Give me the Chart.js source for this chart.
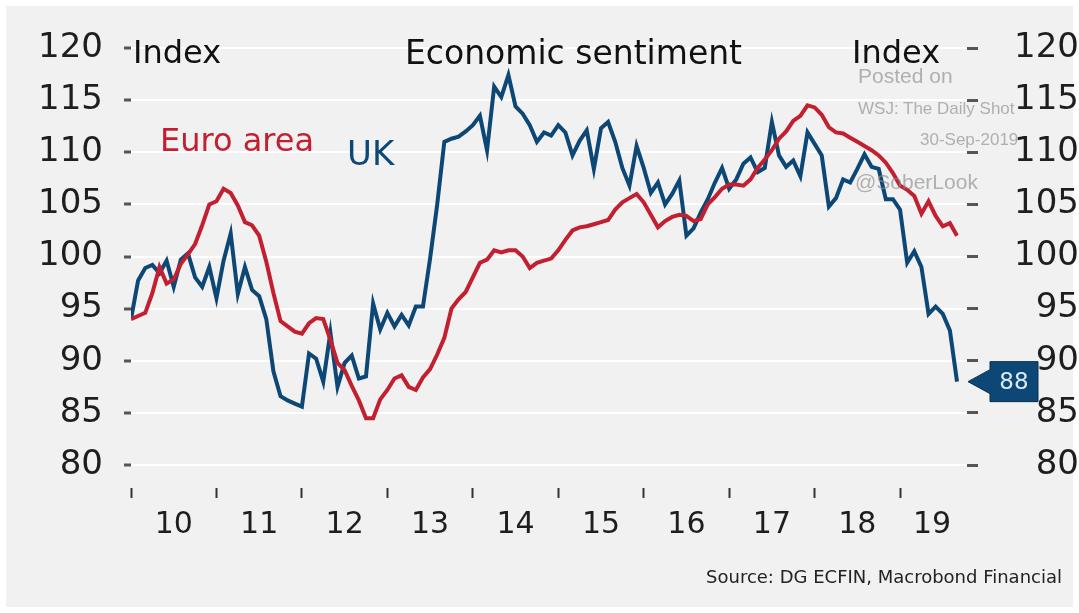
<!DOCTYPE html>
<html>
<head>
<meta charset="utf-8">
<script src="https://cdn.jsdelivr.net/npm/chart.js@4.4.1/dist/chart.umd.min.js"></script>
<style>
  html, body { margin: 0; padding: 0; background: #ffffff; }
  #wrap { position: relative; width: 1079px; height: 613px; overflow: hidden; }
  #panel { position: absolute; left: 6px; top: 6px; width: 1067px; height: 601px; background: #f1f1f1; }
  #chart { position: absolute; left: 0; top: 0; }
  .txt { position: absolute; white-space: nowrap; line-height: 1; font-family: "DejaVu Sans", sans-serif; }
  .wm { position: absolute; white-space: nowrap; line-height: 1; font-family: "Liberation Sans", Arial, sans-serif; color: rgba(140,140,140,0.65); }
</style>
</head>
<body>
<div id="wrap">
  <div id="panel"></div>
  <canvas id="chart" width="1079" height="613"></canvas>
  <div class="txt" style="left:133px; top:36px; font-size:32px; color:#111;">Index</div>
  <div class="txt" style="left:405px; top:36px; font-size:33px; color:#111;">Economic sentiment</div>
  <div class="txt" style="left:852px; top:36px; font-size:32px; color:#111;">Index</div>
  <div class="txt" style="left:160px; top:124px; font-size:32px; color:#c21f30;">Euro area</div>
  <div class="txt" style="left:347px; top:136px; font-size:34px; color:#0d4775;">UK</div>
  <div class="wm" style="left:858px; top:65px; font-size:21px;">Posted on</div>
  <div class="wm" style="left:858px; top:100px; font-size:17px;">WSJ: The Daily Shot</div>
  <div class="wm" style="left:920px; top:131px; font-size:17px;">30-Sep-2019</div>
  <div class="wm" style="left:855px; top:171px; font-size:21px;">@SoberLook</div>
  <div class="txt" style="right:17px; top:568px; font-size:18px; color:#222;">Source: DG ECFIN, Macrobond Financial</div>
</div>
<script>
// Economic sentiment indicator, monthly, Jan 2010 - Sep 2019
const yearLabels = ['10', '11', '12', '13', '14', '15', '16', '17', '18', '19'];
const yTicks = [80, 85, 90, 95, 100, 105, 110, 115, 120];

const euroArea = [
  94.0, 94.3, 94.6, 96.5, 99.0, 97.4, 97.8, 99.3, 100.2, 101.2, 103.0, 105.0,
  105.3, 106.5, 106.1, 104.9, 103.3, 103.0, 102.0, 99.5, 96.5, 93.8, 93.3, 92.8,
  92.6, 93.6, 94.1, 94.0, 92.0, 89.8, 89.1, 87.6, 86.2, 84.5, 84.5, 86.3,
  87.2, 88.3, 88.6, 87.5, 87.2, 88.4, 89.2, 90.6, 92.2, 95.0, 95.9, 96.6,
  98.0, 99.4, 99.7, 100.6, 100.4, 100.6, 100.6, 100.0, 98.9, 99.4, 99.6, 99.8,
  100.6, 101.6, 102.5, 102.8, 102.9, 103.1, 103.3, 103.5, 104.5, 105.2, 105.6, 106.0,
  105.2, 104.0, 102.8, 103.4, 103.8, 104.0, 103.9, 103.4, 103.6, 105.0, 105.7, 106.5,
  106.9, 106.9, 106.8, 107.4, 108.5, 109.3, 110.2, 111.3, 112.0, 113.0, 113.5, 114.5,
  114.3, 113.6, 112.4, 111.9, 111.8, 111.4, 111.0, 110.6, 110.2, 109.7, 109.0, 108.0,
  106.8, 106.4, 105.8, 104.1, 105.3, 103.9, 102.9, 103.2, 102.0
];

const uk = [
  94.0, 97.7, 98.9, 99.2, 98.4, 99.6, 97.1, 99.7, 100.3, 98.0, 97.1, 99.0,
  96.0, 99.6, 102.2, 96.4, 99.0, 96.8, 96.2, 94.0, 89.0, 86.6, 86.2, 85.9,
  85.6, 90.7, 90.2, 88.0, 92.7, 87.5, 89.8, 90.5, 88.3, 88.5, 95.5, 93.0,
  94.6, 93.3, 94.4, 93.4, 95.2, 95.2, 99.8, 105.0, 111.0, 111.3, 111.5, 112.0,
  112.6, 113.5, 110.2, 116.3, 115.3, 117.4, 114.4, 113.7, 112.6, 111.0, 111.9, 111.6,
  112.6, 111.9, 109.7, 111.1, 112.1, 108.4, 112.3, 112.9, 111.0, 108.5, 106.8, 110.6,
  108.5, 106.1, 107.1, 105.0, 106.0, 107.3, 102.0, 102.7, 104.2, 105.5, 107.1, 108.5,
  106.5, 107.4, 108.9, 109.5, 108.1, 108.5, 112.9, 109.7, 108.6, 109.2, 107.7, 111.9,
  110.8, 109.7, 104.8, 105.6, 107.4, 107.1, 108.4, 109.8, 108.6, 108.4, 105.5, 105.5,
  104.5, 99.4, 100.5, 99.0, 94.5, 95.2, 94.5, 92.9, 88.0
];

const RED = '#c21f30';
const BLUE = '#0d4775';

const nMonths = uk.length;
const yearStarts = yearLabels.map((_, i) => i * 12);
// label sits in the middle of the months each year covers
const yearMids = yearStarts.map(s => (s + Math.min(s + 12, nMonths)) / 2);

const toPoints = arr => arr.map((v, i) => ({ x: i, y: v }));

Chart.defaults.font.family = '"DejaVu Sans", sans-serif';

// little value box at the end of the UK line
const lastValueTag = {
  id: 'lastValueTag',
  afterDraw(chart) {
    const ctx = chart.ctx;
    const last = uk[uk.length - 1];
    const y = chart.scales.y.getPixelForValue(last);
    const tipX = chart.chartArea.right + 1;
    const boxL = tipX + 22, boxR = boxL + 48, h = 20;
    ctx.save();
    ctx.beginPath();
    ctx.moveTo(tipX, y);
    ctx.lineTo(boxL, y - 12);
    ctx.lineTo(boxL, y - h);
    ctx.lineTo(boxR, y - h);
    ctx.lineTo(boxR, y + h);
    ctx.lineTo(boxL, y + h);
    ctx.lineTo(boxL, y + 12);
    ctx.closePath();
    ctx.fillStyle = BLUE;
    ctx.fill();
    ctx.strokeStyle = '#08304f';
    ctx.lineWidth = 1;
    ctx.stroke();
    ctx.fillStyle = '#dbe9f5';
    ctx.font = '23px "DejaVu Sans"';
    ctx.textAlign = 'center';
    ctx.textBaseline = 'middle';
    ctx.fillText(String(Math.round(last)), (boxL + boxR) / 2, y + 1);
    ctx.restore();
  }
};

const yAxisBase = {
  type: 'linear',
  min: 77.8,
  max: 120,
  afterBuildTicks: scale => { scale.ticks = yTicks.map(v => ({ value: v })); },
  border: { display: false },
  ticks: { color: '#1e1e1e', font: { size: 34 } }
};

new Chart(document.getElementById('chart'), {
  type: 'line',
  data: {
    datasets: [
      { label: 'Euro area', data: toPoints(euroArea), borderColor: RED, borderWidth: 4, pointRadius: 0, tension: 0, xAxisID: 'x', yAxisID: 'y' },
      { label: 'UK', data: toPoints(uk), borderColor: BLUE, borderWidth: 4, pointRadius: 0, tension: 0, xAxisID: 'x', yAxisID: 'y' }
    ]
  },
  options: {
    responsive: false,
    animation: false,
    devicePixelRatio: 1,
    layout: { padding: { top: 48, bottom: 40, left: 0, right: 0 } },
    plugins: { legend: { display: false }, tooltip: { enabled: false } },
    scales: {
      x: {
        type: 'linear',
        position: 'bottom',
        weight: 0,
        min: 0,
        max: 117.4,
        afterBuildTicks: scale => { scale.ticks = yearStarts.map(v => ({ value: v })); },
        afterFit: scale => { scale.height = 10; },
        border: { display: false },
        grid: { display: true, drawOnChartArea: false, drawTicks: true, tickLength: 10, tickColor: '#333', tickWidth: 2 },
        ticks: { display: false }
      },
      xl: {
        type: 'linear',
        position: 'bottom',
        weight: 1,
        min: 0,
        max: 117.4,
        afterBuildTicks: scale => { scale.ticks = yearMids.map(v => ({ value: v })); },
        afterFit: scale => { scale.height = 75; },
        border: { display: false },
        grid: { display: false, drawTicks: false },
        ticks: {
          color: '#1e1e1e',
          font: { size: 30 },
          padding: 9,
          maxRotation: 0,
          autoSkip: false,
          callback: (v, i) => yearLabels[i]
        }
      },
      y: {
        ...yAxisBase,
        position: 'left',
        afterFit: scale => { scale.width = 131; },
        grid: { color: '#ffffff', lineWidth: 2, tickColor: '#555', tickLength: 7, tickWidth: 3 },
        ticks: { ...yAxisBase.ticks, padding: 21 }
      },
      y2: {
        ...yAxisBase,
        position: 'right',
        afterFit: scale => { scale.width = 112; },
        grid: { drawOnChartArea: false, tickColor: '#555', tickLength: 11, tickWidth: 3 },
        ticks: { ...yAxisBase.ticks, padding: 17, crossAlign: 'far' }
      }
    }
  },
  plugins: [lastValueTag]
});
</script>
</body>
</html>
